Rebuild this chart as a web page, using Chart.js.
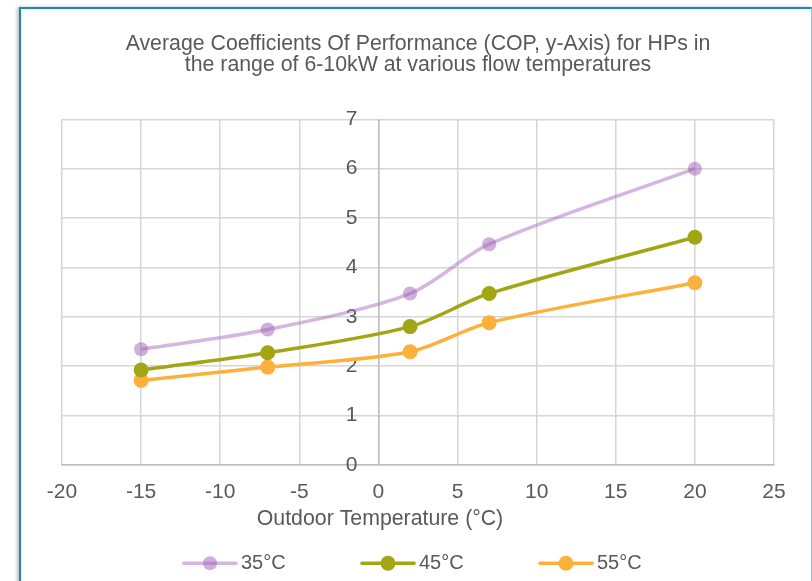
<!DOCTYPE html>
<html>
<head>
<meta charset="utf-8">
<script src="https://cdn.jsdelivr.net/npm/chart.js@4.4.1/dist/chart.umd.min.js"></script>
<style>
  html, body { margin: 0; padding: 0; background: #ffffff; overflow: hidden; width: 812px; height: 581px; }
  #frame { position: absolute; left: 19px; top: 7px; width: 790px; height: 600px;
           border-left: 2px solid #1b8bb3; border-top: 2px solid #1b8bb3; border-right: 1px solid #8fc8da;
           background: #ffffff; box-shadow: -2px 0 3px rgba(0,0,0,0.25); }
  #wrap { position: absolute; left: 0; top: 0; width: 812px; height: 581px; }
</style>
</head>
<body>
<div id="frame"></div>
<div id="wrap"><canvas id="c" width="812" height="581"></canvas></div>
<script>
const temperatures = [-15, -7, 2, 7, 20];
const cop35 = [2.34, 2.74, 3.47, 4.47, 6.00];
const cop45 = [1.92, 2.27, 2.80, 3.47, 4.61];
const cop55 = [1.71, 1.98, 2.29, 2.88, 3.69];
const seriesLabels = ['35°C', '45°C', '55°C'];
const chartTitle = ['Average Coefficients Of Performance (COP, y-Axis) for HPs in', 'the range of 6-10kW at various flow temperatures'];
const xAxisTitle = 'Outdoor Temperature (°C)';
const xTicks = [-20, -15, -10, -5, 0, 5, 10, 15, 20, 25];
const yTicks = [0, 1, 2, 3, 4, 5, 6, 7];

const FONT = '"Liberation Sans", Arial, sans-serif';
const TXT = '#595959';

function pts(ys) { return temperatures.map((t, i) => ({ x: t, y: ys[i] })); }

const styles = [
  { line: 'rgba(172,110,194,0.5)', fill: 'rgba(160,96,184,0.5)', r: 7 },
  { line: '#a3a614', fill: '#a3a614', r: 7.5 },
  { line: '#fdb03b', fill: '#fdb03b', r: 7.5 }
];
const values = [cop35, cop45, cop55];

const datasets = values.map((v, i) => ({
  label: seriesLabels[i],
  data: pts(v),
  borderColor: styles[i].line,
  backgroundColor: styles[i].fill,
  pointBackgroundColor: styles[i].fill,
  pointBorderWidth: 0,
  pointRadius: styles[i].r,
  pointHoverRadius: styles[i].r,
  borderWidth: 3.5,
  tension: 0.3,
  fill: false
}));

const bottomTexts = {
  id: 'bottomTexts',
  afterDraw(chart) {
    const ctx = chart.ctx;
    const ca = chart.chartArea;
    const cx = (ca.left + ca.right) / 2 - 38;
    ctx.save();
    ctx.fillStyle = TXT;
    ctx.textBaseline = 'middle';
    ctx.textAlign = 'center';
    ctx.font = '21.3px ' + FONT;
    ctx.fillText(xAxisTitle, cx, ca.bottom + 54);
    // legend
    ctx.font = '20px ' + FONT;
    const ly = ca.bottom + 98.5;
    const itemStep = 178;
    const lineLen = 52;
    const startX = cx - 196;
    chart.data.datasets.forEach((ds, i) => {
      const x0 = startX + i * itemStep;
      ctx.strokeStyle = ds.borderColor;
      ctx.lineWidth = 3.5;
      ctx.lineCap = 'round';
      ctx.beginPath();
      ctx.moveTo(x0, ly);
      ctx.lineTo(x0 + lineLen, ly);
      ctx.stroke();
      ctx.fillStyle = ds.pointBackgroundColor;
      ctx.beginPath();
      ctx.arc(x0 + lineLen / 2, ly, ds.pointRadius, 0, Math.PI * 2);
      ctx.fill();
      ctx.fillStyle = TXT;
      ctx.textAlign = 'left';
      ctx.fillText(ds.label, x0 + lineLen + 5, ly);
    });
    ctx.restore();
  }
};

new Chart(document.getElementById('c'), {
  type: 'line',
  data: { datasets },
  options: {
    responsive: false,
    animation: false,
    events: [],
    layout: { padding: { left: 62, right: 38, top: 0, bottom: 61 } },
    plugins: {
      legend: { display: false },
      tooltip: { enabled: false },
      title: {
        display: true,
        text: chartTitle,
        color: TXT,
        font: { family: FONT, size: 21.3, weight: 'normal', lineHeight: 1.01 },
        padding: { top: 33, bottom: 43.3 }
      }
    },
    scales: {
      x: {
        type: 'linear',
        min: xTicks[0],
        max: xTicks[xTicks.length - 1],
        afterBuildTicks: (s) => { s.ticks = xTicks.map(v => ({ value: v })); },
        grid: { color: '#d6d6d6', lineWidth: 1.5, drawTicks: false },
        border: { color: '#bdbdbd', width: 1.5 },
        ticks: { color: TXT, font: { family: FONT, size: 21 }, padding: 15 }
      },
      y: {
        type: 'linear',
        position: { x: 0 },
        min: yTicks[0],
        max: yTicks[yTicks.length - 1],
        afterBuildTicks: (s) => { s.ticks = yTicks.map(v => ({ value: v })); },
        grid: { color: '#d6d6d6', lineWidth: 1.5, drawTicks: false },
        border: { color: '#bdbdbd', width: 1.5 },
        ticks: { color: TXT, font: { family: FONT, size: 21 }, callback: (v) => v + '\u2002\u2002' }
      }
    }
  },
  plugins: [bottomTexts]
});
</script>
</body>
</html>
